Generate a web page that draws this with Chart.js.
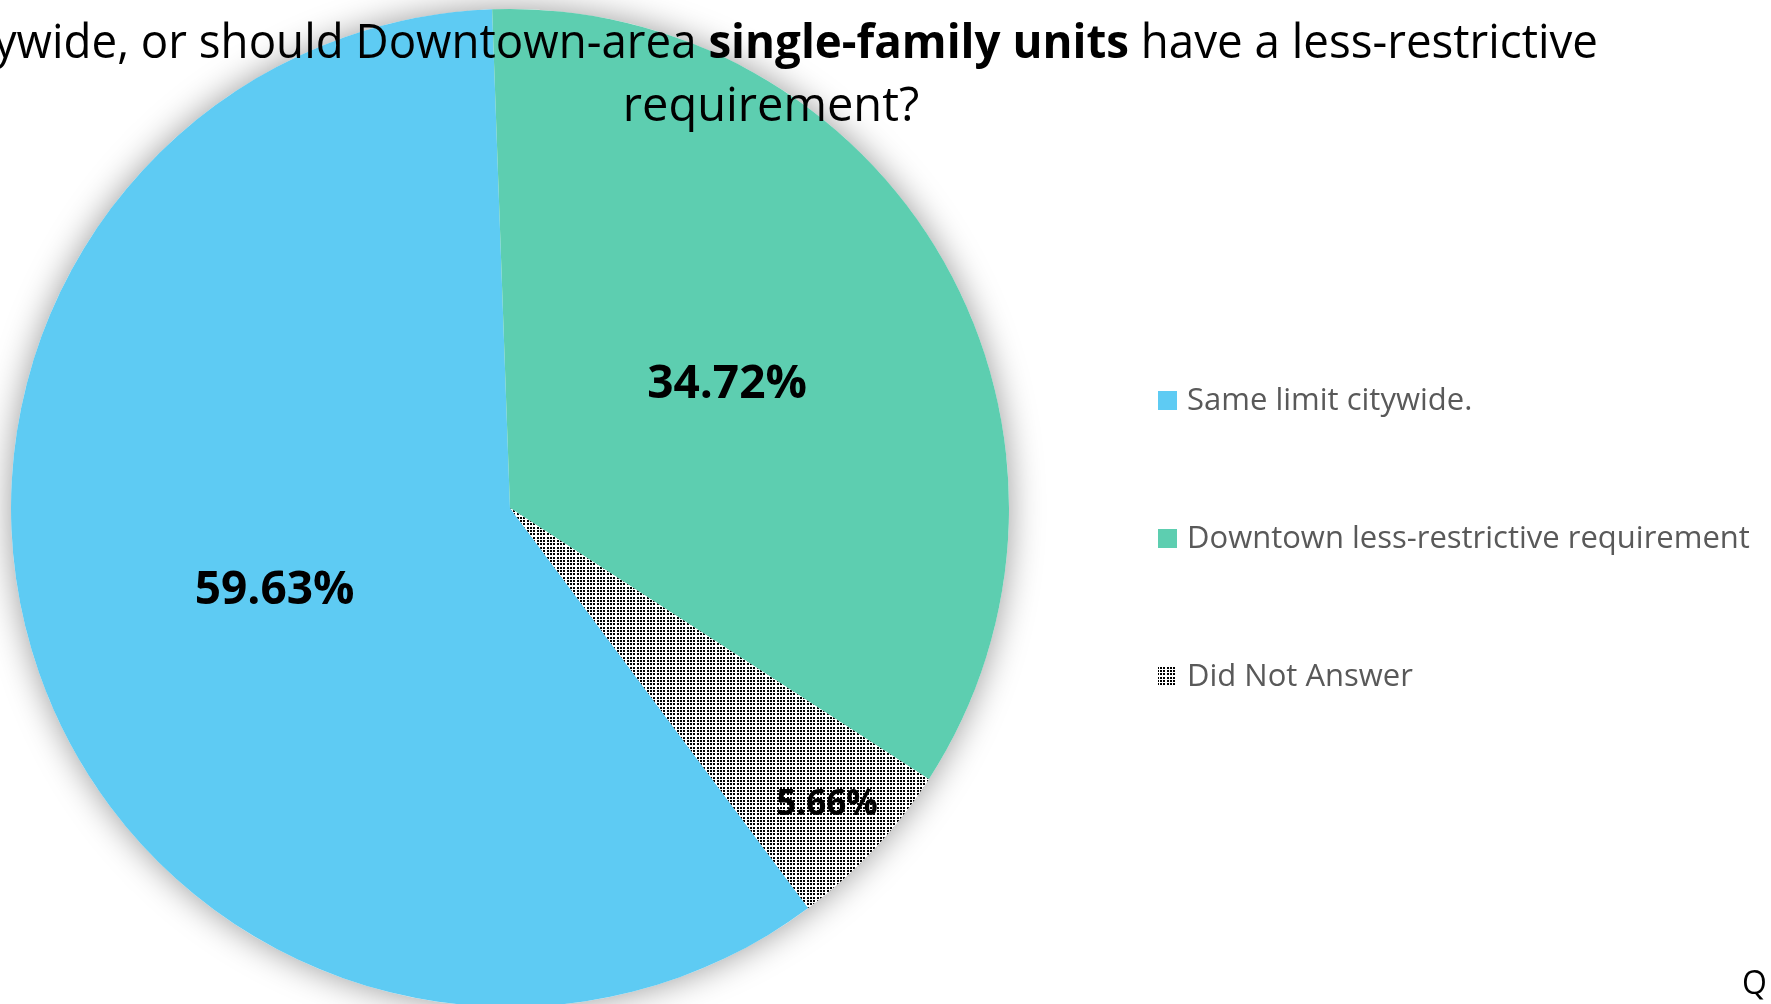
<!DOCTYPE html>
<html>
<head>
<meta charset="utf-8">
<script src="https://cdn.jsdelivr.net/npm/chart.js@4.4.1/dist/chart.umd.min.js"></script>
<style>
html, body { margin: 0; padding: 0; background: #fff; overflow: hidden; }
#wrap { position: relative; width: 1771px; height: 1012px; }
</style>
</head>
<body>
<div id="wrap"><canvas id="pie-chart"></canvas></div>
<script>
const categories = ['Same limit citywide.', 'Downtown less-restrictive requirement', 'Did Not Answer'];
const shares = [59.63, 34.72, 5.66];
const titleTop = 'If the City updates its parking requirements for new housing, should the same limit apply';
const titleMid = [
    ['citywide, or should Downtown-area ', false],
    ['single-family units', true],
    [' have a less-restrictive', false]
];
const titleEnd = 'requirement?';
const cornerText = 'Q';

const sliceColors = ['#5ECBF3', '#5DCEB0'];
const FONT = '"Open Sans", "Noto Sans", sans-serif';

const canvas = document.getElementById('pie-chart');

// dotted fill used by the "did not answer" slice
function dotPattern() {
    const c = document.createElement('canvas');
    c.width = 10; c.height = 10;
    const g = c.getContext('2d');
    g.fillStyle = '#fff';
    g.fillRect(0, 0, 10, 10);
    g.fillStyle = '#000';
    [0, 3, 7].forEach(px => {
        [0, 3, 7].forEach(py => g.fillRect(px, py, 2, 2));
    });
    return canvas.getContext('2d').createPattern(c, 'repeat');
}
const dots = dotPattern();
const fills = [sliceColors[0], sliceColors[1], dots];

// soft glow behind the pie
const pieShadow = {
    id: 'pieShadow',
    beforeDatasetsDraw(chart) {
        const arc = chart.getDatasetMeta(0).data[0];
        if (!arc) return;
        const ctx = chart.ctx;
        ctx.save();
        ctx.shadowColor = 'rgba(0,0,0,0.4)';
        ctx.shadowBlur = 34;
        ctx.beginPath();
        ctx.arc(arc.x, arc.y, arc.outerRadius, 0, Math.PI * 2);
        ctx.fillStyle = '#fff';
        ctx.fill();
        ctx.restore();
    }
};

// percentage labels inside the slices
const labelRadius = [0.5, 0.5, 0.87];
const labelSize = [46, 46, 35];
const sliceLabels = {
    id: 'sliceLabels',
    afterDatasetsDraw(chart) {
        const ctx = chart.ctx;
        ctx.save();
        ctx.fillStyle = '#000';
        ctx.textAlign = 'center';
        ctx.textBaseline = 'middle';
        chart.getDatasetMeta(0).data.forEach((arc, i) => {
            const p = arc.getProps(['x', 'y', 'startAngle', 'endAngle', 'outerRadius'], true);
            const mid = (p.startAngle + p.endAngle) / 2;
            const r = p.outerRadius * labelRadius[i];
            ctx.font = 'bold ' + labelSize[i] + 'px ' + FONT;
            ctx.fillText(shares[i].toFixed(2) + '%', p.x + Math.cos(mid) * r, p.y + Math.sin(mid) * r);
        });
        ctx.restore();
    }
};

// title (partly cut off), legend and corner text
const decorations = {
    id: 'decorations',
    afterDraw(chart) {
        const ctx = chart.ctx;
        const cx = 771;
        ctx.save();
        ctx.fillStyle = '#000';
        ctx.textBaseline = 'alphabetic';

        ctx.textAlign = 'center';
        ctx.font = '47px ' + FONT;
        ctx.fillText(titleTop, cx, -13);
        ctx.fillText(titleEnd, cx, 121);

        // middle line has a bold run, squeeze it to the original width
        ctx.textAlign = 'left';
        let total = 0;
        titleMid.forEach(([t, b]) => {
            ctx.font = (b ? 'bold ' : '') + '47px ' + FONT;
            total += ctx.measureText(t).width;
        });
        const sx = 1654 / total;
        ctx.save();
        ctx.translate(cx - 827, 0);
        ctx.scale(sx, 1);
        let x = 0;
        titleMid.forEach(([t, b]) => {
            ctx.font = (b ? 'bold ' : '') + '47px ' + FONT;
            ctx.fillText(t, x, 58);
            x += ctx.measureText(t).width;
        });
        ctx.restore();

        // legend
        ctx.font = '31px ' + FONT;
        ctx.textBaseline = 'middle';
        categories.forEach((label, i) => {
            const y = 401 + i * 138;
            ctx.fillStyle = fills[i];
            ctx.fillRect(1158, y - 10, 19, 19);
            ctx.fillStyle = '#595959';
            ctx.fillText(label, 1187, y);
        });

        ctx.fillStyle = '#000';
        ctx.textBaseline = 'alphabetic';
        ctx.font = '32px ' + FONT;
        ctx.fillText(cornerText, 1742, 994);
        ctx.restore();
    }
};

new Chart(canvas, {
    type: 'pie',
    data: {
        labels: categories,
        datasets: [{
            data: shares,
            backgroundColor: fills,
            borderWidth: 0
        }]
    },
    options: {
        responsive: true,
        maintainAspectRatio: false,
        animation: false,
        rotation: 143.3,
        layout: { padding: { left: 11, top: 9, right: 762, bottom: 5 } },
        plugins: {
            legend: { display: false },
            tooltip: { enabled: false },
            title: { display: false }
        },
        events: []
    },
    plugins: [pieShadow, sliceLabels, decorations]
});
</script>
</body>
</html>
